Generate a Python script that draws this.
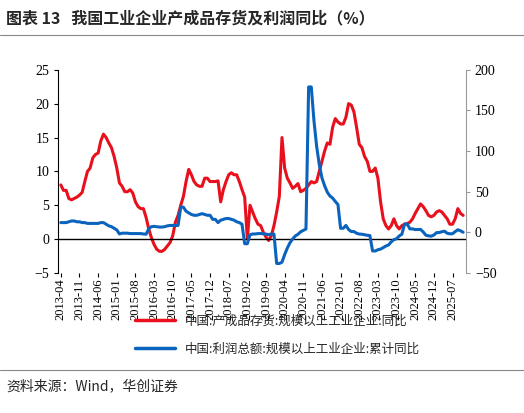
import numpy as np, pandas as pd, seaborn as sns
import matplotlib
matplotlib.use("Agg")
import matplotlib.pyplot as plt
from matplotlib.lines import Line2D

inventory = [8.0,7.2,7.2,6.0,5.8,6.0,6.2,6.5,6.9,
 8.5,10.0,10.5,12.0,12.5,12.7,14.5,15.5,15.0,14.2,13.5,12.2,
 10.5,8.3,7.8,7.0,7.0,7.3,6.8,5.5,4.8,4.5,4.5,3.2,
 1.5,0.2,-0.8,-1.5,-1.8,-1.8,-1.5,-1.0,-0.5,0.5,2.5,3.5,
 5.0,6.3,8.5,10.3,9.5,8.5,8.0,7.8,7.8,9.0,9.0,8.5,
 8.5,8.5,8.6,5.5,7.3,8.5,9.5,9.8,9.5,9.5,8.5,7.3,
 6.2,0.0,5.0,4.0,3.0,2.2,2.0,1.0,0.3,-0.2,0.5,2.0,
 4.0,6.3,15.0,10.5,9.0,8.3,7.5,7.8,8.2,7.0,7.2,7.5,
 8.0,8.5,8.3,8.5,10.0,11.5,13.0,14.2,14.0,16.5,17.8,17.3,
 17.0,17.0,18.0,20.0,19.8,18.8,16.5,14.0,13.5,12.2,11.5,10.0,
 10.0,10.5,9.0,5.5,3.0,2.0,1.5,2.0,3.0,2.0,1.5,2.0,
 2.2,2.3,2.5,3.0,3.8,4.5,5.2,4.8,4.2,3.5,3.3,3.5,
 4.0,4.2,4.0,3.5,3.0,2.2,2.2,3.0,4.5,3.8,3.5]
profit = [12,12,12,13,14,14,13,13,12,
 12,11,11,11,11,11,12,12,10,8,7,5,
 3,-2,-1,-1,-1,-1.5,-1.5,-1.5,-1.5,-1.5,-2,-2.3,
 4.5,7,7.4,7,6.5,6.5,7,8,8.5,8.5,8.5,8.5,
 31,31,26,24,22,21,21,22,23,22,21,21,
 16,16,12,15,16,17,17,16,15,13,12,10,
 -14,-14,-3,-2,-2,-1.5,-1.5,-1.7,-2.1,-2.9,-2.1,-2.1,
 -38.3,-38.3,-36.7,-27.4,-19.3,-12.8,-8.1,-4.4,-2.4,0.7,2.4,4.1,
 178.9,178.9,137.3,106,83.4,66.9,57.3,49.5,44.7,42.2,38,34.3,
 5,5,8.5,3.5,1,1,-1.1,-2.1,-2.3,-3,-3.6,-4,
 -22.9,-22.9,-21.4,-20.6,-18.8,-16.8,-15.5,-11.7,-9,-7.8,-4.4,-2.3,
 10.2,10.2,4.3,4.3,3.4,3.5,3.6,0.5,-3.5,-4.3,-4.7,-3.3,
 -0.3,-0.3,0.8,1.4,-1.1,-1.8,-1.7,0.9,3.2,1.9,0.1]
dates = pd.date_range("2013-04", periods=len(inventory), freq="MS")
tick_labels = [d.strftime("%Y-%m") for d in dates[::7]]
name_inv = "中国:产成品存货:规模以上工业企业:同比"
name_pro = "中国:利润总额:规模以上工业企业:累计同比"

df = pd.DataFrame({"m": np.arange(len(dates)), "inv": inventory, "pro": profit})
sns.set_style("white")
plt.rcParams["font.family"] = ["Liberation Serif", "Noto Sans CJK SC"]
red, blue = "#E8101C", "#0A64BE"

fig = plt.figure(figsize=(5.24, 4.13), dpi=100)
ax = fig.add_axes([0.111, 0.339, 0.778, 0.492])
ax2 = ax.twinx()
sns.lineplot(data=df, x="m", y="inv", ax=ax, color=red, lw=2.2)
sns.lineplot(data=df, x="m", y="pro", ax=ax2, color=blue, lw=2.2)
ax.set_xlim(-1, 152)
ax.set_ylim(-5, 25); ax.set_yticks(range(-5, 26, 5))
ax2.set_ylim(-50, 200); ax2.set_yticks(range(-50, 201, 50))
ax.set_xticks(df["m"][::7]); ax.set_xticklabels(tick_labels, rotation=90)
ax.axhline(0, color="black", lw=1)
for a in (ax, ax2):
    a.set_xlabel(""); a.set_ylabel("")
    a.tick_params(labelsize=10, length=3, direction="out", colors="black")
    for s in a.spines.values(): s.set_visible(False)
ax.tick_params(axis="x", labelsize=9, pad=1)
ax.spines["left"].set_visible(True); ax.spines["left"].set_color("black")
ax2.spines["right"].set_visible(True); ax2.spines["right"].set_color("#999999")
ax.tick_params(axis="x", bottom=True)
ax.tick_params(axis="y", left=True)
ax2.tick_params(axis="y", right=True, color="#999999")

handles = [Line2D([], [], color=red, lw=2.5), Line2D([], [], color=blue, lw=2.5)]
fig.legend(handles, [name_inv, name_pro], loc="upper center", bbox_to_anchor=(0.53, 0.265),
           frameon=False, ncol=1, prop={"family": "Noto Sans CJK SC", "size": 9},
           handlelength=3.2, labelspacing=1.2)
fig.text(0.012, 0.955, "图表 13   我国工业企业产成品存货及利润同比（%）", fontsize=11.5,
         fontweight="bold", family=["Noto Sans CJK SC"], va="center")
fig.add_artist(Line2D([0.0, 1.0], [0.915, 0.915], color="#888888", lw=0.8))
fig.add_artist(Line2D([0.0, 1.0], [0.105, 0.105], color="#888888", lw=0.8))
fig.text(0.012, 0.065, "资料来源：Wind，华创证券", fontsize=10, style="italic",
         family=["Noto Sans CJK SC"], va="center")
fig.savefig("out.png", dpi=100)
